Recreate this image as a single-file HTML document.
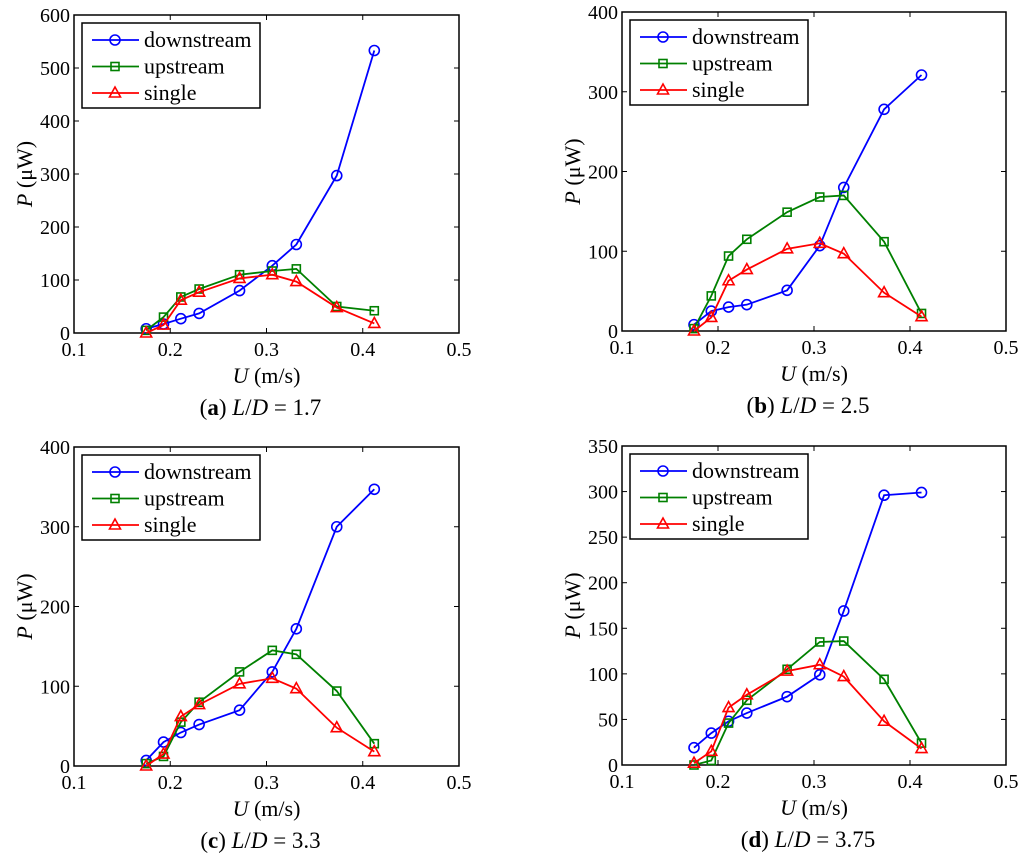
<!DOCTYPE html>
<html><head><meta charset="utf-8"><style>
html,body{margin:0;padding:0;background:#fff;}
svg{display:block;font-family:"Liberation Serif",serif;}
</style></head><body>
<svg id="fig" width="1024" height="864" viewBox="0 0 1024 864"></svg>
<script>
const xVals=[0.175,0.193,0.211,0.23,0.272,0.306,0.331,0.373,0.412];
const xTicks=[0.1,0.2,0.3,0.4,0.5];
const downA=[8,17,27,37,80,127,167,297,533];
const upA=[5,30,68,83,110,117,121,50,42];
const singleA=[0,15,62,77,103,110,97,48,18];
const downB=[8,25,30,33,51,107,180,278,321];
const upB=[3,44,94,115,149,168,170,112,22];
const singleB=[0,17,63,77,103,110,97,48,18];
const downC=[7,30,42,52,70,118,172,300,347];
const upC=[3,12,55,80,118,145,140,94,28];
const singleC=[0,15,62,77,103,110,97,48,18];
const downD=[19,35,48,57,75,99,169,296,299];
const upD=[0,5,46,71,105,135,136,94,24];
const singleD=[2,15,63,77,103,110,97,48,18];
const yTicksA=[0,100,200,300,400,500,600];
const yTicksB=[0,100,200,300,400];
const yTicksC=[0,100,200,300,400];
const yTicksD=[0,50,100,150,200,250,300,350];
const captions=["a","b","c","d"];
const ratios=["1.7","2.5","3.3","3.75"];

const NS="http://www.w3.org/2000/svg";
const svg=document.getElementById('fig');
function mk(tag,attrs,parent,text){const e=document.createElementNS(NS,tag);for(const k in attrs)e.setAttribute(k,attrs[k]);if(text!==undefined)e.textContent=text;(parent||svg).appendChild(e);return e;}

const panels=[
 {L:74,R:459,T:15,B:333,yt:yTicksA,d:downA,u:upA,s:singleA},
 {L:622,R:1006,T:12,B:331,yt:yTicksB,d:downB,u:upB,s:singleB},
 {L:74,R:459,T:447,B:766,yt:yTicksC,d:downC,u:upC,s:singleC},
 {L:622,R:1006,T:446,B:765,yt:yTicksD,d:downD,u:upD,s:singleD}
];
function marker(g,type,x,y,col){
 let m;
 if(type==='o') m=mk('circle',{cx:x,cy:y,r:5,fill:'none',stroke:col,'stroke-width':1.6},g);
 else if(type==='s') m=mk('rect',{x:x-4,y:y-4,width:8,height:8,fill:'none',stroke:col,'stroke-width':1.6},g);
 else m=mk('polygon',{points:`${x},${y-6} ${x-5.5},${y+4} ${x+5.5},${y+4}`,fill:'none',stroke:col,'stroke-width':1.6},g);
 
 
}
panels.forEach((p,i)=>{
 const g=mk('g',{},svg);
 
 
 const ymax=p.yt[p.yt.length-1];
 const xs=v=>p.L+(v-0.1)/0.4*(p.R-p.L);
 const ys=v=>p.B-v/ymax*(p.B-p.T);
 const box=mk('rect',{x:p.L,y:p.T,width:p.R-p.L,height:p.B-p.T,fill:'none',stroke:'#000','stroke-width':1.5},g);
 
 
 xTicks.forEach(t=>{const x=xs(t);
  mk('line',{x1:x,x2:x,y1:p.B,y2:p.B-5,stroke:'#000'},g);
  mk('line',{x1:x,x2:x,y1:p.T,y2:p.T+5,stroke:'#000'},g);
  const tl=mk('text',{x:x,y:p.B+23,'text-anchor':'middle','font-size':20},g,t.toFixed(1));
  
  
 });
 p.yt.forEach(t=>{const y=ys(t);
  mk('line',{x1:p.L,x2:p.L+5,y1:y,y2:y,stroke:'#000'},g);
  mk('line',{x1:p.R,x2:p.R-5,y1:y,y2:y,stroke:'#000'},g);
  const tl=mk('text',{x:p.L-4,y:y+7,'text-anchor':'end','font-size':20},g,String(t));
  
  
 });
 const xt=mk('text',{x:(p.L+p.R)/2,y:p.B+50,'text-anchor':'middle','font-size':22},g);
 xt.innerHTML='<tspan font-style="italic">U</tspan> (m/s)';
 
 
 const cy=(p.T+p.B)/2;
 const yt=mk('text',{x:0,y:0,'text-anchor':'middle','font-size':22,transform:`translate(${p.L-42},${cy}) rotate(-90)`},g);
 yt.innerHTML='<tspan font-style="italic">P</tspan> (μW)';
 
 
 const series=[[p.d,'#0000ff','o','downstream'],[p.u,'#008000','s','upstream'],[p.s,'#ff0000','t','single']];
 series.forEach(([vals,col,type,name])=>{
  const sg=mk('g',{},g);
  
  
  const pts=vals.map((v,k)=>xs(xVals[k])+','+ys(v)).join(' ');
  mk('polyline',{points:pts,fill:'none',stroke:col,'stroke-width':1.8},sg);
  vals.forEach((v,k)=>marker(sg,type,xs(xVals[k]),ys(v),col));
 });
 const lg=mk('g',{},g);
 
 
 const lx=p.L+8,ly=p.T+8;
 mk('rect',{x:lx,y:ly,width:178,height:85,fill:'#fff',stroke:'#000','stroke-width':1.5},lg);
 series.forEach(([vals,col,type,name],k)=>{
  const yy=ly+17+k*26.5;
  const e=mk('g',{},lg);
  
  
  mk('line',{x1:lx+10,x2:lx+57,y1:yy,y2:yy,stroke:col,'stroke-width':1.8},e);
  marker(e,type,lx+33,yy,col);
  mk('text',{x:lx+62,y:yy+7,'font-size':22},e,name);
 });
 const cap=mk('text',{x:(p.L+p.R)/2-6,y:p.B+82,'text-anchor':'middle','font-size':23},g);
 cap.innerHTML=`(<tspan font-weight="bold">${captions[i]}</tspan>) <tspan font-style="italic">L</tspan>/<tspan font-style="italic">D</tspan> = ${ratios[i]}`;
 
 
});
</script>
</body></html>
